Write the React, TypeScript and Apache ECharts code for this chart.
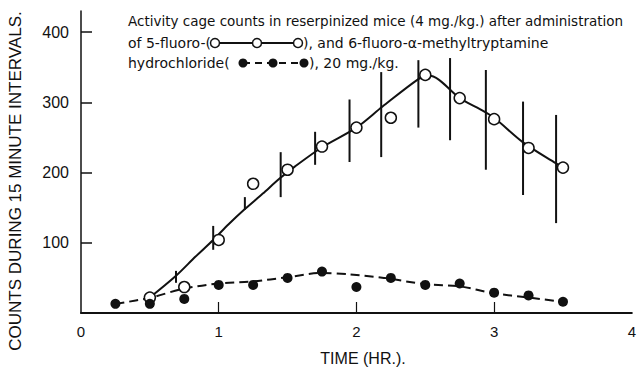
import React, { useEffect, useRef } from "react";
import * as echarts from "echarts";

// Tick values
const xTickValues = [1, 2, 3];
const yTickValues = [100, 200, 300, 400];

// 5-fluoro- (open circles)
const openTimes = [0.5, 0.75, 1.0, 1.25, 1.5, 1.75, 2.0, 2.25, 2.5, 2.75, 3.0, 3.25, 3.5];
const openCounts = [22, 37, 104, 184, 204, 237, 264, 278, 339, 306, 276, 235, 207];

// 6-fluoro-alpha-methyltryptamine (filled circles)
const filledTimes = [0.25, 0.5, 0.75, 1.0, 1.25, 1.5, 1.75, 2.0, 2.25, 2.5, 2.75, 3.0, 3.25, 3.5];
const filledCounts = [13, 13, 20, 40, 40, 50, 59, 37, 50, 40, 42, 29, 25, 16];

// Hand-drawn fitted curves
const openCurveTimes = [0.5, 0.69, 0.83, 0.96, 1.07, 1.19, 1.32, 1.44, 1.55, 1.75, 2.0, 2.19, 2.45, 2.52, 2.6, 2.75, 2.9, 3.0, 3.21, 3.45, 3.5];
const openCurveCounts = [22, 53, 80, 104, 126, 148, 170, 191, 208, 236, 264, 294, 333, 338, 332, 306, 290, 278, 243, 213, 207];
const filledCurveTimes = [0.25, 0.51, 0.73, 1.0, 1.25, 1.5, 1.75, 1.95, 2.2, 2.5, 2.75, 3.0, 3.25, 3.45];
const filledCurveCounts = [13, 22, 34, 42, 45, 51, 57, 55, 50, 41, 38, 28, 22, 17];

// Vertical range bars: time, low, high
const barTimes = [0.69, 0.96, 1.19, 1.45, 1.7, 1.95, 2.18, 2.45, 2.68, 2.94, 3.21, 3.45];
const barLows = [43, 90, 147, 165, 211, 215, 222, 264, 246, 204, 168, 128];
const barHighs = [60, 124, 165, 229, 258, 304, 343, 360, 363, 346, 301, 282];

const INK = "#111";
const FONT = "Liberation Sans";
const LEGEND_FONT = "DejaVu Sans";

export default function App() {
  const ref = useRef<HTMLDivElement>(null);

  useEffect(() => {
    document.body.style.margin = "0";
    if (!ref.current) return;
    const chart = echarts.init(ref.current, undefined, { renderer: "svg" });

    const zip = (a: number[], b: number[]) => a.map((v, i) => [v, b[i]]);
    const bars = barTimes.map((t, i) => [t, barLows[i], barHighs[i]]);

    const textStyle = (size: number, family: string = FONT) => ({
      fill: INK,
      fontFamily: family,
      fontSize: size,
    });

    const legendY1 = 21;
    const legendY2 = 43;
    const legendY3 = 63;
    const LS = 14;

    chart.setOption({
      animation: false,
      backgroundColor: "#fff",
      grid: { left: 81, right: 2, top: 11, bottom: 55 },
      xAxis: {
        type: "value",
        min: 0,
        max: 4,
        interval: 1,
        axisLine: { lineStyle: { color: INK, width: 2 } },
        axisTick: { inside: true, length: 11, customValues: xTickValues, lineStyle: { color: INK, width: 1.2 } },
        axisLabel: { color: INK, fontFamily: FONT, fontSize: 15, margin: 11 },
        splitLine: { show: false },
      },
      yAxis: {
        type: "value",
        min: 0,
        max: 430,
        interval: 100,
        axisLine: { show: true, lineStyle: { color: INK, width: 1.5 } },
        axisTick: { show: true, inside: true, length: 11, customValues: yTickValues, lineStyle: { color: INK, width: 1.5 } },
        axisLabel: { color: INK, fontFamily: FONT, fontSize: 16, margin: 12, customValues: yTickValues },
        splitLine: { show: false },
      },
      series: [
        {
          type: "custom",
          name: "range",
          encode: { x: 0, y: [1, 2] },
          data: bars,
          clip: false,
          z: 2,
          renderItem: (params: any, api: any) => {
            const p1 = api.coord([api.value(0), api.value(1)]);
            const p2 = api.coord([api.value(0), api.value(2)]);
            return {
              type: "line",
              shape: { x1: p1[0], y1: p1[1], x2: p2[0], y2: p2[1] },
              style: { stroke: INK, lineWidth: 2 },
            };
          },
        },
        {
          type: "line",
          name: "5-fluoro curve",
          data: zip(openCurveTimes, openCurveCounts),
          smooth: 0.3,
          showSymbol: false,
          symbol: "none",
          lineStyle: { color: INK, width: 2 },
          z: 3,
        },
        {
          type: "line",
          name: "6-fluoro curve",
          data: zip(filledCurveTimes, filledCurveCounts),
          smooth: 0.3,
          showSymbol: false,
          symbol: "none",
          lineStyle: { color: INK, width: 2, type: [9, 5] },
          z: 3,
        },
        {
          type: "scatter",
          name: "5-fluoro",
          data: zip(openTimes, openCounts),
          symbol: "circle",
          symbolSize: 11,
          itemStyle: { color: "#fff", borderColor: INK, borderWidth: 1.5, opacity: 1 },
          z: 5,
        },
        {
          type: "scatter",
          name: "6-fluoro-α-methyltryptamine",
          data: zip(filledTimes, filledCounts),
          symbol: "circle",
          symbolSize: 10,
          itemStyle: { color: INK, opacity: 1 },
          z: 5,
        },
      ],
      graphic: [
        {
          type: "text",
          x: 15,
          y: 181,
          rotation: Math.PI / 2,
          style: {
            text: "COUNTS DURING 15 MINUTE INTERVALS.",
            ...textStyle(17),
            align: "center",
            verticalAlign: "middle",
          },
        },
        {
          type: "text",
          x: 363,
          y: 358,
          style: { text: "TIME (HR.).", ...textStyle(16), align: "center", verticalAlign: "middle" },
        },
        {
          type: "text",
          x: 128,
          y: legendY1,
          style: {
            text: "Activity cage counts in reserpinized mice (4 mg./kg.) after administration",
            ...textStyle(13.5, LEGEND_FONT),
            verticalAlign: "middle",
          },
        },
        {
          type: "text",
          x: 128,
          y: legendY2,
          style: { text: "of 5-fluoro-(", ...textStyle(LS, LEGEND_FONT), verticalAlign: "middle" },
        },
        {
          type: "line",
          shape: { x1: 215, y1: legendY2, x2: 298, y2: legendY2 },
          style: { stroke: INK, lineWidth: 2 },
        },
        ...[215, 257, 298].map((cx) => ({
          type: "circle",
          shape: { cx, cy: legendY2, r: 4.5 },
          style: { fill: "#fff", stroke: INK, lineWidth: 1.5 },
          z: 10,
        })),
        {
          type: "text",
          x: 303,
          y: legendY2,
          style: { text: "), and 6-fluoro-α-methyltryptamine", ...textStyle(LS, LEGEND_FONT), verticalAlign: "middle" },
        },
        {
          type: "text",
          x: 128,
          y: legendY3,
          style: { text: "hydrochloride(", ...textStyle(LS, LEGEND_FONT), verticalAlign: "middle" },
        },
        {
          type: "line",
          shape: { x1: 243, y1: legendY3, x2: 304, y2: legendY3 },
          style: { stroke: INK, lineWidth: 2, lineDash: [7, 5] },
        },
        ...[243, 273, 304].map((cx) => ({
          type: "circle",
          shape: { cx, cy: legendY3, r: 4.5 },
          style: { fill: INK },
          z: 10,
        })),
        {
          type: "text",
          x: 309,
          y: legendY3,
          style: { text: "), 20 mg./kg.", ...textStyle(LS, LEGEND_FONT), verticalAlign: "middle" },
        },
      ],
    });

    return () => chart.dispose();
  }, []);

  return <div ref={ref} style={{ width: 639, height: 368 }} />;
}
